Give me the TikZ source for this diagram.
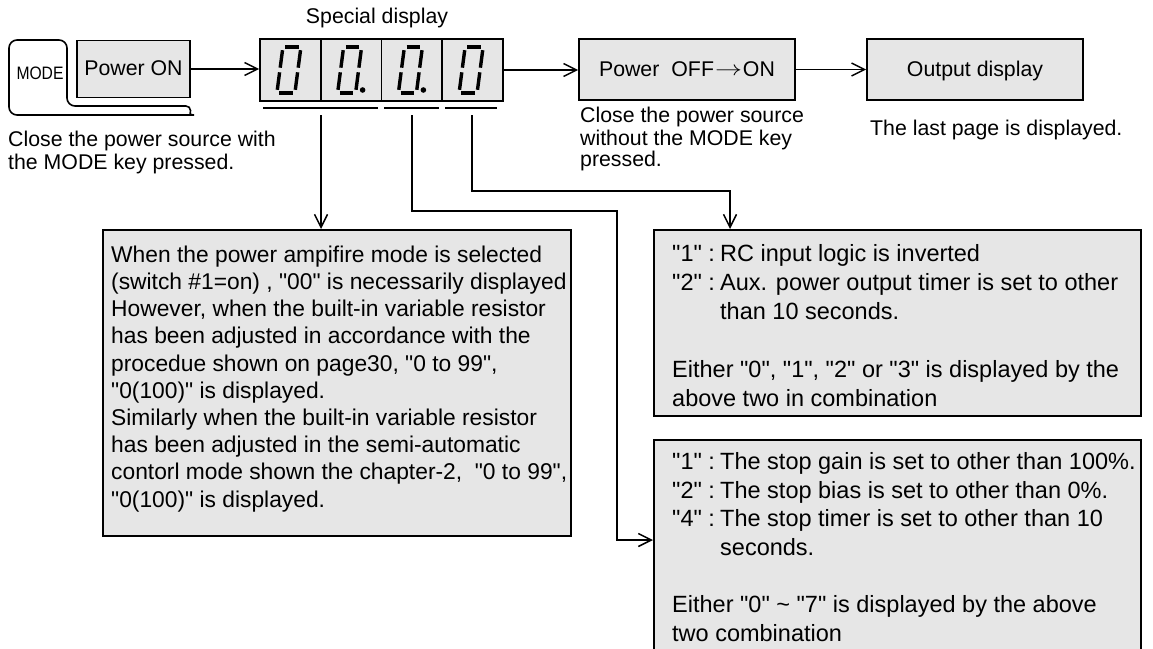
\documentclass[tikz,border=0pt]{standalone}
\usepackage{fontspec}
\usepackage{graphicx}
\newfontfamily\arialfont{Liberation Sans}
\usetikzlibrary{arrows.meta}
\definecolor{boxfill}{RGB}{230,230,230}
\begin{document}
\begin{tikzpicture}[x=1pt,y=-1pt,
  graybox/.style={draw, line width=1.6pt, fill=boxfill, inner sep=0pt},
  conn/.style={line width=1.5pt, -{Straight Barb[length=13pt,width=13pt,line width=1.5pt]}},
  segline/.style={line width=3.4pt},
  txt/.style={font={\arialfont\fontsize{21.3}{21.3}\selectfont}, inner sep=0pt},
  boxtxt/.style={txt, text height=16.5pt, text depth=3pt},
  bodytxt/.style={inner sep=0pt, align=left, anchor=north west},
  captxt/.style={font={\arialfont\fontsize{21.3}{21.3}\selectfont}, inner sep=0pt, align=left, anchor=north west},
  zerodigit/.pic={
    \draw[segline] (-5.3,-23) -- (8.3,-23);
    \draw[segline] (-11.3,23) -- (2.3,23);
    \draw[segline] (-10.2,-2.3) -- (-7.9,-19.8);
    \draw[segline] (-13.1,19.8) -- (-10.8,2.3);
    \draw[segline] (7.8,-2.3) -- (10.1,-19.8);
    \draw[segline] (4.9,19.8) -- (7.2,2.3);
  },
]
\clip (0,0) rectangle (1153,648);
\fill[white] (0,0) rectangle (1153,648);

% title
\node[txt] (sd) at (377,18) {Special display};

% MODE key
\draw[line width=1.6pt, rounded corners=8pt] (186,106) -- (67,106) -- (67,40) -- (9,40) -- (9,115) -- (186,115) arc[start angle=90,end angle=-90,radius=4.5];
\node[font={\arialfont\fontsize{18}{18}\selectfont}, inner sep=0pt] (key) at (40,73) {\scalebox{0.87}[1]{MODE}};

% top row boxes
\node[graybox, boxtxt, draw, minimum width=113pt, minimum height=57pt] (pon) at (133.5,69) {Power ON};
\foreach \i/\cx in {1/290.4, 2/351.1, 3/411.9, 4/472.6}{
  \node[graybox, minimum width=60.75pt, minimum height=62pt] (d\i) at (\cx,70) {};
  \pic at (d\i) {zerodigit};
}
\fill (d2.center) ++(11.5,20) circle[radius=2.8];
\fill (d3.center) ++(11.5,20) circle[radius=2.8];
\node[graybox, boxtxt, draw, minimum width=216pt, minimum height=61pt] (off) at (687,69.5) {Power\hspace{12pt}OFF\hspace{1pt}\raisebox{0.5pt}{\scalebox{1.3}[1]{$\rightarrow$}}\hspace{1pt}ON};
\node[graybox, boxtxt, draw, minimum width=216pt, minimum height=61pt] (out) at (975,69.5) {Output display};

% underlines
\draw[line width=1.5pt] (263,108) -- (378,108);
\draw[line width=1.5pt] (384,108) -- (439,108);
\draw[line width=1.5pt] (445,108) -- (497,108);

% captions
\node[captxt] (cap1) at (8,131) {\strut Close the power source with\\the MODE key pressed.};
\node[captxt] (cap2) at (580,107) {\strut Close the power source\\without the MODE key\\pressed.};
\node[captxt] (cap3) at (870,120) {\strut The last page is displayed.};

% lower boxes
\node[graybox, minimum width=468pt, minimum height=306pt, anchor=north west] (lb) at (102,229) {};
\node[bodytxt, font={\arialfont\fontsize{22.8}{27.2}\selectfont}] (lbt) at (111,243) {\strut When the power ampifire mode is selected\\
(switch \#1=on) , "00" is necessarily displayed\\
However, when the built-in variable resistor\\
has been adjusted in accordance with the\\
procedue shown on page30, "0 to 99",\\
"0(100)" is displayed.\\
Similarly when the built-in variable resistor\\
has been adjusted in the semi-automatic\\
contorl mode shown the chapter-2,\ \ "0 to 99",\\
"0(100)" is displayed.};

\node[graybox, minimum width=487pt, minimum height=186pt, anchor=north west] (rt) at (653,229) {};
\node[bodytxt, font={\arialfont\fontsize{23.5}{29}\selectfont}] (rtt) at (672,241) {\strut\makebox[48pt][l]{"1" :}RC input logic is inverted\\
\makebox[48pt][l]{"2" :}Aux. power output timer is set to other\\
\hspace*{48pt}than 10 seconds.\\
\mbox{}\\
Either "0", "1", "2" or "3" is displayed by the\\
above two in combination};

\node[graybox, minimum width=487pt, minimum height=215pt, anchor=north west] (rb) at (653,439) {};
\node[bodytxt, font={\arialfont\fontsize{23.5}{28.7}\selectfont}] (rbt) at (672,449) {\strut\makebox[48pt][l]{"1" :}The stop gain is set to other than 100\%.\\
\makebox[48pt][l]{"2" :}The stop bias is set to other than 0\%.\\
\makebox[48pt][l]{"4" :}The stop timer is set to other than 10\\
\hspace*{48pt}seconds.\\
\mbox{}\\
Either "0" \textasciitilde\ "7" is displayed by the above\\
two combination};

% connectors
\draw[conn] (pon.east) -- (pon.east -| d1.west);
\draw[conn] (d4.east) -- (d4.east -| off.west);
\draw[conn] (off.east) -- (out.west);

\coordinate (u1) at (321,115);
\coordinate (u2) at (412,115);
\coordinate (u3) at (472,115);
\coordinate (j2) at (617,211);
\coordinate (t2) at (653,540);
\coordinate (j3) at (730,191);
\draw[conn] (u1) -- (u1 |- lb.north);
\draw[conn] (u2) |- (j2) |- (t2);
\draw[conn] (u3) |- (j3) -- (j3 |- rt.north);
\end{tikzpicture}
\end{document}
